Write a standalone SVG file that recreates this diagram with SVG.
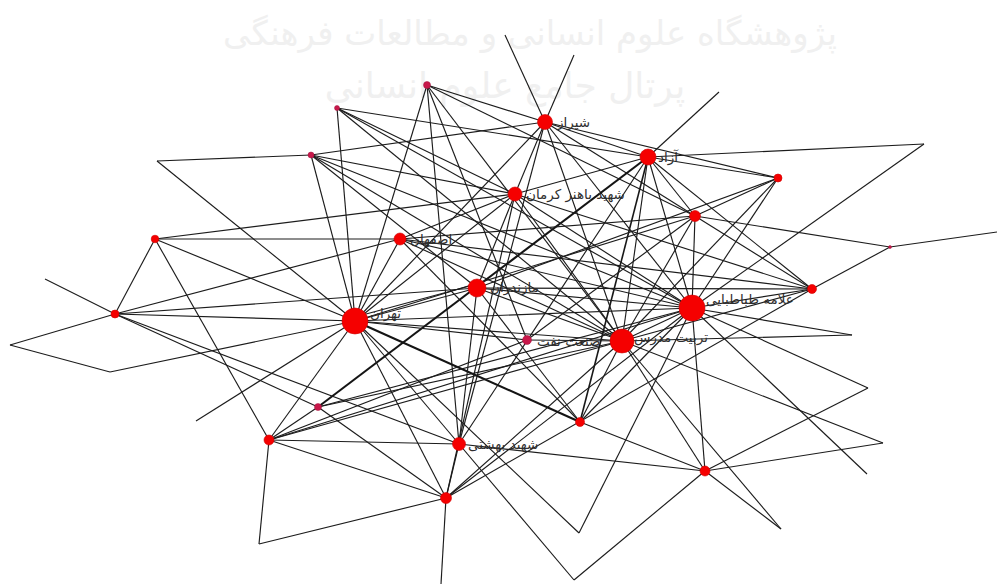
<svg xmlns="http://www.w3.org/2000/svg" width="997" height="584" viewBox="0 0 997 584">
<style>
.e{stroke:#1c1c1c;stroke-width:1.15;fill:none}
.t{stroke:#141414;stroke-width:2.1;fill:none}
.m{stroke:#181818;stroke-width:1.6;fill:none}
.r{fill:#f50000;stroke:#d00000;stroke-width:0.6}
.dk{fill:#c8184a;stroke:#a0103a;stroke-width:0.5}
.lb{font-family:"DejaVu Sans","Liberation Sans",sans-serif;font-size:13.5px;fill:#2e2e2e}
.wm{font-family:"DejaVu Sans","Noto Sans",sans-serif;fill:#f0f0f0}
</style>
<rect width="997" height="584" fill="#fff"/>
<g id="watermark">
<text class="wm" x="530" y="45" font-size="34" text-anchor="middle">پژوهشگاه علوم انسانی و مطالعات فرهنگی</text>
<text class="wm" x="505" y="98" font-size="36" text-anchor="middle">پرتال جامع علوم انسانی</text>
</g>
<g id="connectors">
<line class="e" x1="157" y1="161" x2="311" y2="155"/>
<line class="e" x1="157" y1="161" x2="355" y2="321"/>
<line class="e" x1="311" y1="155" x2="545" y2="122"/>
<line class="e" x1="311" y1="155" x2="515" y2="194"/>
<line class="e" x1="311" y1="155" x2="355" y2="321"/>
<line class="e" x1="311" y1="155" x2="692" y2="308"/>
<line class="e" x1="311" y1="155" x2="622" y2="341"/>
<line class="e" x1="337" y1="108" x2="648" y2="157"/>
<line class="e" x1="337" y1="108" x2="355" y2="321"/>
<line class="e" x1="337" y1="108" x2="622" y2="341"/>
<line class="e" x1="337" y1="108" x2="692" y2="308"/>
<line class="e" x1="337" y1="108" x2="515" y2="194"/>
<line class="e" x1="427" y1="85" x2="545" y2="122"/>
<line class="e" x1="427" y1="85" x2="695" y2="216"/>
<line class="e" x1="427" y1="85" x2="355" y2="321"/>
<line class="e" x1="427" y1="85" x2="459" y2="444"/>
<line class="e" x1="427" y1="85" x2="527" y2="340"/>
<line class="e" x1="427" y1="85" x2="622" y2="341"/>
<line class="e" x1="505" y1="35" x2="545" y2="122"/>
<line class="e" x1="574" y1="55" x2="545" y2="122"/>
<line class="e" x1="545" y1="122" x2="648" y2="157"/>
<line class="e" x1="545" y1="122" x2="778" y2="178"/>
<line class="e" x1="545" y1="122" x2="515" y2="194"/>
<line class="e" x1="545" y1="122" x2="355" y2="321"/>
<line class="e" x1="545" y1="122" x2="459" y2="444"/>
<line class="e" x1="545" y1="122" x2="692" y2="308"/>
<line class="e" x1="545" y1="122" x2="622" y2="341"/>
<line class="e" x1="545" y1="122" x2="695" y2="216"/>
<line class="e" x1="648" y1="157" x2="719" y2="92"/>
<line class="e" x1="648" y1="157" x2="924" y2="144"/>
<line class="e" x1="648" y1="157" x2="778" y2="178"/>
<line class="e" x1="648" y1="157" x2="515" y2="194"/>
<line class="e" x1="648" y1="157" x2="622" y2="341"/>
<line class="e" x1="648" y1="157" x2="692" y2="308"/>
<line class="e" x1="648" y1="157" x2="812" y2="289"/>
<line class="e" x1="648" y1="157" x2="695" y2="216"/>
<line class="e" x1="648" y1="157" x2="459" y2="444"/>
<line class="m" x1="648" y1="157" x2="580" y2="422"/>
<line class="t" x1="648" y1="157" x2="318" y2="407"/>
<line class="e" x1="778" y1="178" x2="695" y2="216"/>
<line class="e" x1="778" y1="178" x2="692" y2="308"/>
<line class="e" x1="778" y1="178" x2="622" y2="341"/>
<line class="e" x1="778" y1="178" x2="477" y2="288"/>
<line class="e" x1="924" y1="144" x2="692" y2="308"/>
<line class="e" x1="695" y1="216" x2="812" y2="289"/>
<line class="e" x1="695" y1="216" x2="890" y2="247"/>
<line class="e" x1="695" y1="216" x2="692" y2="308"/>
<line class="e" x1="695" y1="216" x2="622" y2="341"/>
<line class="e" x1="695" y1="216" x2="355" y2="321"/>
<line class="e" x1="695" y1="216" x2="400" y2="239"/>
<line class="e" x1="695" y1="216" x2="527" y2="340"/>
<line class="e" x1="812" y1="289" x2="692" y2="308"/>
<line class="e" x1="812" y1="289" x2="622" y2="341"/>
<line class="e" x1="812" y1="289" x2="477" y2="288"/>
<line class="e" x1="812" y1="289" x2="400" y2="239"/>
<line class="e" x1="812" y1="289" x2="890" y2="247"/>
<line class="e" x1="812" y1="289" x2="446" y2="498"/>
<line class="e" x1="812" y1="289" x2="515" y2="194"/>
<line class="e" x1="890" y1="247" x2="997" y2="232"/>
<line class="e" x1="852" y1="335" x2="622" y2="341"/>
<line class="e" x1="852" y1="335" x2="692" y2="308"/>
<line class="e" x1="868" y1="388" x2="692" y2="308"/>
<line class="e" x1="868" y1="388" x2="705" y2="471"/>
<line class="e" x1="883" y1="443" x2="705" y2="471"/>
<line class="e" x1="883" y1="443" x2="622" y2="341"/>
<line class="e" x1="867" y1="474" x2="692" y2="308"/>
<line class="e" x1="705" y1="471" x2="692" y2="308"/>
<line class="e" x1="705" y1="471" x2="781" y2="529"/>
<line class="e" x1="705" y1="471" x2="574" y2="580"/>
<line class="e" x1="705" y1="471" x2="580" y2="422"/>
<line class="e" x1="705" y1="471" x2="459" y2="444"/>
<line class="e" x1="705" y1="471" x2="622" y2="341"/>
<line class="e" x1="781" y1="529" x2="622" y2="341"/>
<line class="t" x1="580" y1="422" x2="355" y2="321"/>
<line class="e" x1="580" y1="422" x2="692" y2="308"/>
<line class="e" x1="580" y1="422" x2="622" y2="341"/>
<line class="e" x1="580" y1="422" x2="400" y2="239"/>
<line class="e" x1="580" y1="422" x2="477" y2="288"/>
<line class="e" x1="579" y1="533" x2="355" y2="321"/>
<line class="e" x1="579" y1="533" x2="692" y2="308"/>
<line class="e" x1="574" y1="580" x2="459" y2="444"/>
<line class="e" x1="446" y1="498" x2="441" y2="584"/>
<line class="e" x1="446" y1="498" x2="259" y2="544"/>
<line class="e" x1="446" y1="498" x2="269" y2="440"/>
<line class="e" x1="446" y1="498" x2="318" y2="407"/>
<line class="e" x1="446" y1="498" x2="355" y2="321"/>
<line class="e" x1="446" y1="498" x2="459" y2="444"/>
<line class="e" x1="446" y1="498" x2="622" y2="341"/>
<line class="e" x1="446" y1="498" x2="692" y2="308"/>
<line class="e" x1="446" y1="498" x2="515" y2="194"/>
<line class="e" x1="269" y1="440" x2="155" y2="239"/>
<line class="e" x1="269" y1="440" x2="355" y2="321"/>
<line class="e" x1="269" y1="440" x2="259" y2="544"/>
<line class="e" x1="269" y1="440" x2="459" y2="444"/>
<line class="e" x1="269" y1="440" x2="318" y2="407"/>
<line class="e" x1="269" y1="440" x2="622" y2="341"/>
<line class="e" x1="269" y1="440" x2="692" y2="308"/>
<line class="e" x1="269" y1="440" x2="527" y2="340"/>
<line class="e" x1="318" y1="407" x2="622" y2="341"/>
<line class="e" x1="318" y1="407" x2="692" y2="308"/>
<line class="e" x1="318" y1="407" x2="115" y2="314"/>
<line class="e" x1="196" y1="421" x2="355" y2="321"/>
<line class="e" x1="155" y1="239" x2="515" y2="194"/>
<line class="e" x1="155" y1="239" x2="400" y2="239"/>
<line class="e" x1="155" y1="239" x2="355" y2="321"/>
<line class="e" x1="155" y1="239" x2="115" y2="314"/>
<line class="e" x1="115" y1="314" x2="45" y2="279"/>
<line class="e" x1="115" y1="314" x2="10" y2="345"/>
<line class="e" x1="115" y1="314" x2="400" y2="239"/>
<line class="e" x1="115" y1="314" x2="477" y2="288"/>
<line class="e" x1="115" y1="314" x2="355" y2="321"/>
<line class="e" x1="115" y1="314" x2="459" y2="444"/>
<line class="e" x1="10" y1="345" x2="110" y2="372"/>
<line class="e" x1="110" y1="372" x2="355" y2="321"/>
<line class="e" x1="459" y1="444" x2="355" y2="321"/>
<line class="e" x1="459" y1="444" x2="477" y2="288"/>
<line class="e" x1="527" y1="340" x2="355" y2="321"/>
<line class="e" x1="527" y1="340" x2="622" y2="341"/>
<line class="e" x1="477" y1="288" x2="355" y2="321"/>
<line class="e" x1="477" y1="284" x2="355" y2="317"/>
<line class="e" x1="477" y1="288" x2="515" y2="194"/>
<line class="e" x1="477" y1="288" x2="692" y2="308"/>
<line class="e" x1="477" y1="288" x2="622" y2="341"/>
<line class="e" x1="477" y1="288" x2="311" y2="155"/>
<line class="e" x1="400" y1="239" x2="355" y2="321"/>
<line class="e" x1="400" y1="239" x2="515" y2="194"/>
<line class="e" x1="400" y1="239" x2="692" y2="308"/>
<line class="e" x1="400" y1="239" x2="622" y2="341"/>
<line class="e" x1="515" y1="194" x2="355" y2="321"/>
<line class="e" x1="515" y1="194" x2="692" y2="308"/>
<line class="e" x1="515" y1="194" x2="622" y2="341"/>
<line class="e" x1="355" y1="321" x2="622" y2="341"/>
<line class="e" x1="355" y1="321" x2="692" y2="308"/>
<line class="e" x1="622" y1="341" x2="692" y2="308"/>
</g>
<g id="node-shiraz"><circle class="r" cx="545" cy="122" r="7.5"/><text class="lb" x="557" y="127">شیراز</text></g>
<g id="node-azad"><circle class="r" cx="648" cy="157" r="8"/><text class="lb" x="658" y="162">آزاد</text></g>
<g id="node-bahonar"><circle class="r" cx="515" cy="194" r="7"/><text class="lb" x="526" y="199">شهید باهنر کرمان</text></g>
<g id="node-isfahan"><circle class="r" cx="400" cy="239" r="6"/><text class="lb" x="410" y="244">اصفهان</text></g>
<g id="node-mazandaran"><circle class="r" cx="477" cy="288" r="9"/><text class="lb" x="490" y="292">مازندران</text></g>
<g id="node-tehran"><circle class="r" cx="355" cy="321" r="13"/><text class="lb" x="370" y="318">تهران</text></g>
<g id="node-sanatnaft"><circle class="dk" cx="527" cy="340" r="4.5"/><text class="lb" x="537" y="346">صنعت نفت</text></g>
<g id="node-modares"><circle class="r" cx="622" cy="341" r="12"/><text class="lb" x="634" y="342">تربیت مدرس</text></g>
<g id="node-allameh"><circle class="r" cx="692" cy="308" r="13"/><text class="lb" x="706" y="304">علامه طباطبایی</text></g>
<g id="node-beheshti"><circle class="r" cx="459" cy="444" r="6.5"/><text class="lb" x="468" y="449">شهید بهشتی</text></g>
<g id="node-a"><circle class="dk" cx="427" cy="85" r="3.5"/></g>
<g id="node-b"><circle class="dk" cx="337" cy="108" r="2.5"/></g>
<g id="node-c"><circle class="dk" cx="311" cy="155" r="3"/></g>
<g id="node-e"><circle class="r" cx="155" cy="239" r="3.8"/></g>
<g id="node-f"><circle class="r" cx="115" cy="314" r="4"/></g>
<g id="node-j"><circle class="r" cx="778" cy="178" r="4"/></g>
<g id="node-m"><circle class="r" cx="695" cy="216" r="5.5"/></g>
<g id="node-n"><circle class="r" cx="812" cy="289" r="4.5"/></g>
<g id="node-o"><circle class="dk" cx="890" cy="247" r="1.5"/></g>
<g id="node-u"><circle class="r" cx="705" cy="471" r="5"/></g>
<g id="node-w"><circle class="r" cx="580" cy="422" r="4.5"/></g>
<g id="node-z"><circle class="r" cx="446" cy="498" r="5.5"/></g>
<g id="node-bb"><circle class="r" cx="269" cy="440" r="5"/></g>
<g id="node-cc"><circle class="dk" cx="318" cy="407" r="3.5"/></g>
</svg>
